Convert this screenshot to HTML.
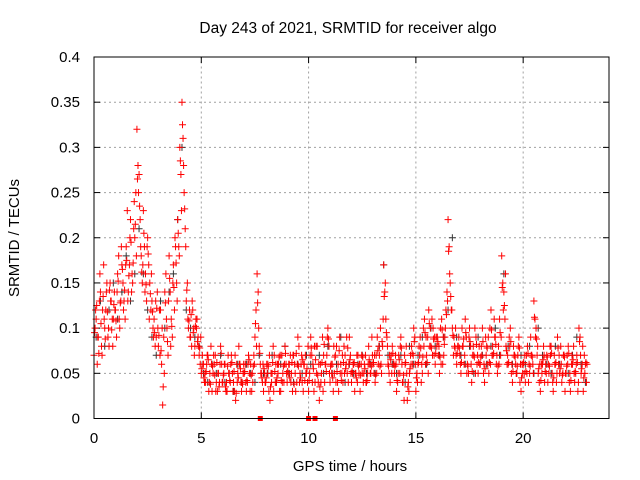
<!DOCTYPE html>
<html><head><meta charset="utf-8">
<style>
html,body{margin:0;padding:0;background:#fff;}
svg{display:block;font-family:"Liberation Sans",Arial,sans-serif;}
</style></head>
<body>
<svg id="chart" width="640" height="480" viewBox="0 0 640 480">
<rect x="0" y="0" width="640" height="480" fill="#fff"/>
<text x="348" y="33" font-size="15.5" text-anchor="middle" fill="#000">Day 243 of 2021, SRMTID for receiver algo</text>
<text x="350" y="471" font-size="15" text-anchor="middle" fill="#000">GPS time / hours</text>
<text x="0" y="0" transform="translate(19,238) rotate(-90)" font-size="15" text-anchor="middle" fill="#000">SRMTID / TECUs</text>
<g id="grid"></g>
<g id="axes"></g>
<g id="marks"></g>
<rect x="94" y="57" width="515" height="361.5" fill="none" stroke="#000" stroke-width="1"/>
</svg>
<script>
const xTicks = [0, 5, 10, 15, 20];
const yTicks = [0, 0.05, 0.1, 0.15, 0.2, 0.25, 0.3, 0.35, 0.4];
const yTickLabels = ["0", "0.05", "0.1", "0.15", "0.2", "0.25", "0.3", "0.35", "0.4"];
const seriesA = [
.07,.11,.09,.14,.12,.10,.15,.08,.13,.11,
.12,.16,.10,.17,.13,.19,.14,.22,.15,.20,
.32,.27,.18,.23,.16,.20,.15,.13,.11,.09,
.08,.12,.015,.14,.10,.18,.11,.17,.19,.22,
.30,.35,.25,.13,.10,.09,.12,.08,.11,.07,
.05,.06,.04,.07,.05,.03,.06,.04,.05,.08,
.04,.06,.03,.05,.07,.04,.02,.05,.06,.04,
.05,.03,.07,.06,.04,.09,.16,.08,.05,.03,
.04,.06,.02,.05,.07,.04,.06,.03,.05,.08,
.04,.06,.05,.07,.03,.09,.05,.04,.06,.05,
.03,.09,.06,.04,.08,.02,.05,.07,.06,.10,
.04,.06,.05,.08,.03,.06,.04,.07,.05,.09,
.04,.06,.05,.07,.03,.05,.06,.04,.08,.05,
.06,.04,.09,.07,.05,.17,.11,.06,.04,.08,
.05,.03,.07,.09,.04,.06,.02,.05,.08,.10,
.03,.06,.09,.05,.11,.07,.12,.08,.10,.06,
.09,.05,.11,.07,.12,.22,.15,.10,.08,.06,
.09,.05,.08,.11,.06,.10,.04,.07,.09,.05,
.06,.10,.04,.08,.05,.12,.07,.09,.05,.11,
.18,.14,.08,.06,.10,.04,.07,.05,.09,.03,
.06,.04,.08,.05,.07,.13,.10,.05,.03,.06,
.04,.07,.05,.08,.03,.06,.09,.05,.04,.07,
.05,.08,.03,.06,.04,.07,.10,.05,.03,.06];
const seriesB = [
.10,.06,.13,.08,.17,.12,.09,.15,.11,.14,
.09,.18,.13,.15,.11,.23,.17,.14,.21,.25,
.28,.22,.15,.19,.13,.17,.12,.10,.08,.14,
.12,.06,.09,.16,.07,.14,.09,.12,.15,.19,
.27,.31,.21,.15,.12,.08,.10,.11,.09,.06,
.07,.04,.06,.03,.08,.05,.07,.03,.04,.06,
.05,.03,.07,.04,.05,.03,.06,.08,.04,.05,
.06,.04,.05,.03,.07,.12,.14,.06,.04,.05,
.06,.03,.05,.08,.04,.06,.03,.07,.04,.06,
.05,.07,.03,.06,.04,.08,.06,.03,.07,.04,
.05,.07,.03,.08,.04,.06,.09,.04,.07,.08,
.06,.03,.07,.04,.09,.05,.08,.06,.04,.07,
.05,.03,.07,.05,.06,.04,.07,.05,.06,.09,
.05,.07,.06,.10,.08,.14,.09,.05,.07,.06,
.07,.04,.05,.06,.02,.08,.04,.07,.06,.09,
.05,.08,.04,.10,.06,.09,.08,.11,.07,.09,
.07,.10,.06,.09,.14,.19,.12,.07,.10,.08,
.07,.10,.06,.09,.05,.08,.07,.10,.06,.08,
.08,.05,.09,.06,.10,.07,.11,.06,.08,.07,
.15,.11,.06,.09,.05,.08,.06,.07,.04,.06,
.05,.07,.04,.09,.06,.11,.07,.04,.06,.08,
.06,.04,.08,.05,.07,.04,.06,.08,.05,.03,
.07,.04,.06,.08,.05,.03,.09,.06,.07,.04];
const seriesD = [
.12,.09,.16,.07,.11,.14,.10,.13,.08,.12,
.14,.11,.19,.12,.17,.13,.20,.16,.24,.18,
.25,.19,.17,.14,.19,.11,.16,.09,.13,.10,
.07,.10,.05,.11,.13,.08,.15,.20,.13,.18,
.23,.28,.19,.11,.09,.13,.07,.10,.08,.09,
.06,.05,.07,.04,.06,.07,.03,.05,.06,.04,
.06,.04,.05,.06,.03,.07,.04,.06,.03,.06,
.04,.06,.03,.05,.06,.08,.10,.05,.06,.04,
.05,.07,.04,.03,.06,.05,.07,.04,.06,.05,
.06,.04,.07,.05,.06,.04,.07,.06,.05,.08,
.07,.04,.08,.05,.06,.04,.03,.06,.09,.05,
.05,.08,.04,.06,.05,.07,.05,.09,.06,.05,
.06,.05,.04,.06,.07,.05,.04,.06,.05,.07,
.07,.05,.08,.06,.11,.15,.08,.07,.05,.06,
.06,.05,.08,.04,.07,.05,.03,.06,.07,.06,
.04,.07,.06,.08,.09,.05,.10,.07,.09,.08,
.08,.06,.09,.10,.13,.16,.12,.09,.07,.08,
.06,.08,.07,.05,.09,.06,.08,.05,.07,.06,
.07,.06,.07,.09,.06,.08,.09,.07,.06,.09,
.12,.16,.07,.08,.06,.07,.05,.08,.06,.05,
.07,.05,.06,.07,.05,.09,.08,.06,.05,.07,
.05,.06,.07,.04,.06,.05,.07,.06,.07,.05,
.06,.05,.07,.05,.06,.04,.07,.08,.05,.06];
const seriesE = [
.095,.125,.072,.105,.135,.088,.118,.142,.098,.126,
.108,.152,.128,.165,.142,.175,.158,.195,.172,.215,
.265,.235,.162,.205,.148,.182,.138,.118,.095,.122,
.092,.075,.035,.128,.085,.155,.102,.145,.172,.205,
.285,.325,.232,.142,.108,.115,.095,.102,.085,.078,
.055,.045,.052,.065,.038,.058,.048,.062,.035,.072,
.048,.035,.058,.042,.062,.052,.028,.045,.055,.038,
.052,.042,.065,.048,.058,.105,.128,.072,.045,.055,
.045,.058,.035,.062,.052,.045,.068,.042,.058,.072,
.052,.045,.062,.038,.072,.058,.045,.065,.042,.055,
.042,.078,.055,.065,.048,.035,.062,.082,.052,.088,
.058,.045,.068,.052,.075,.042,.062,.055,.078,.065,
.052,.062,.045,.058,.048,.068,.055,.042,.065,.058,
.062,.048,.075,.058,.085,.135,.095,.058,.065,.072,
.058,.042,.065,.078,.048,.062,.035,.055,.072,.085,
.045,.062,.078,.068,.095,.062,.105,.078,.088,.072,
.085,.068,.098,.082,.115,.185,.135,.092,.078,.072,
.078,.062,.088,.095,.058,.085,.052,.068,.082,.062,
.068,.085,.055,.078,.062,.098,.072,.082,.058,.095,
.145,.125,.075,.062,.085,.052,.068,.058,.078,.045,
.062,.052,.072,.058,.068,.112,.088,.055,.042,.065,
.052,.068,.058,.072,.045,.062,.078,.055,.048,.068,
.058,.072,.042,.065,.052,.062,.085,.055,.045,.062];
const seriesDark = [
.09,.13,.08,.12,.15,.11,.14,.18,.13,.16,
.21,.16,.12,.09,.07,.13,.10,.14,.16,.22,
.30,.12,.10,.09,.08,.05,.04,.06,.05,.07,
.04,.05,.03,.06,.04,.06,.05,.04,.07,.05,
.05,.07,.04,.06,.08,.05,.04,.06,.05,.07,
.06,.04,.07,.05,.08,.05,.06,.09,.04,.06,
.05,.06,.07,.05,.06,.05,.08,.17,.07,.06,
.05,.07,.04,.08,.06,.07,.09,.06,.10,.08,
.07,.09,.12,.20,.09,.07,.06,.08,.05,.09,
.07,.06,.08,.10,.07,.16,.08,.06,.05,.07,
.06,.08,.05,.10,.07,.06,.05,.08,.06,.07,
.05,.07,.09,.06,.04];
const zeroTimes = [7.75, 10.0, 10.3, 11.25];

const NS = "http://www.w3.org/2000/svg";
const X0 = 94, X1 = 609, Y0 = 418.5, Y1 = 57;
const xMax = 24, yMax = 0.4;
function xs(t){ return X0 + (t / xMax) * (X1 - X0); }
function ys(v){ return Y0 - (v / yMax) * (Y0 - Y1); }

const grid = document.getElementById('grid');
const axes = document.getElementById('axes');
const marks = document.getElementById('marks');

function mk(tag, attrs, parent){
  const el = document.createElementNS(NS, tag);
  for (const k in attrs) el.setAttribute(k, attrs[k]);
  parent.appendChild(el);
  return el;
}

xTicks.forEach(function(t){
  const x = xs(t);
  if (t > 0) {
    const g = mk('line', {x1:x, y1:Y0, x2:x, y2:Y1, stroke:'#a0a0a0', 'stroke-dasharray':'2,3', 'stroke-width':1}, grid);
    
    
  }
  const a = mk('line', {x1:x, y1:Y0, x2:x, y2:Y0-6, stroke:'#000'}, axes);
  
  
  const b = mk('line', {x1:x, y1:Y1, x2:x, y2:Y1+6, stroke:'#000'}, axes);
  
  
  const lb = mk('text', {x:x, y:443, 'font-size':15, 'text-anchor':'middle', fill:'#000'}, axes);
  lb.textContent = String(t);
  
  
});
yTicks.forEach(function(v, i){
  const y = ys(v);
  if (i > 0 && i < yTicks.length - 1) {
    const g = mk('line', {x1:X0, y1:y, x2:X1, y2:y, stroke:'#a0a0a0', 'stroke-dasharray':'2,3', 'stroke-width':1}, grid);
    
    
  }
  const a = mk('line', {x1:X0, y1:y, x2:X0+6, y2:y, stroke:'#000'}, axes);
  
  
  const b = mk('line', {x1:X1, y1:y, x2:X1-6, y2:y, stroke:'#000'}, axes);
  
  
  const lb = mk('text', {x:80, y:y+5, 'font-size':15, 'text-anchor':'end', fill:'#000'}, axes);
  lb.textContent = yTickLabels[i];
  
  
});

function plus(t, v, color, name){
  const x = xs(t), y = ys(v);
  const p = mk('path', {d:'M'+(x-3.5)+' '+y+'H'+(x+3.5)+'M'+x+' '+(y-3.5)+'V'+(y+3.5), stroke:color, 'stroke-width':1, fill:'none'}, marks);
  
  
}
seriesDark.forEach(function(v, i){ plus(0.1 + i * 0.2, v, '#333', 'point-dark'); });
seriesA.forEach(function(v, i){ plus(i * 0.1, v, '#ff0000', 'point-red-a'); });
seriesE.forEach(function(v, i){ plus(0.025 + i * 0.1, v, '#ff0000', 'point-red-e'); });
seriesB.forEach(function(v, i){ plus(0.05 + i * 0.1, v, '#ff0000', 'point-red-b'); });
seriesD.forEach(function(v, i){ plus(0.075 + i * 0.1, v, '#ff0000', 'point-red-d'); });
zeroTimes.forEach(function(t){
  const r = mk('rect', {x:xs(t)-2.5, y:ys(0)-2.5, width:5, height:5, fill:'#ff0000'}, marks);
  
  
});
</script>
</body></html>
